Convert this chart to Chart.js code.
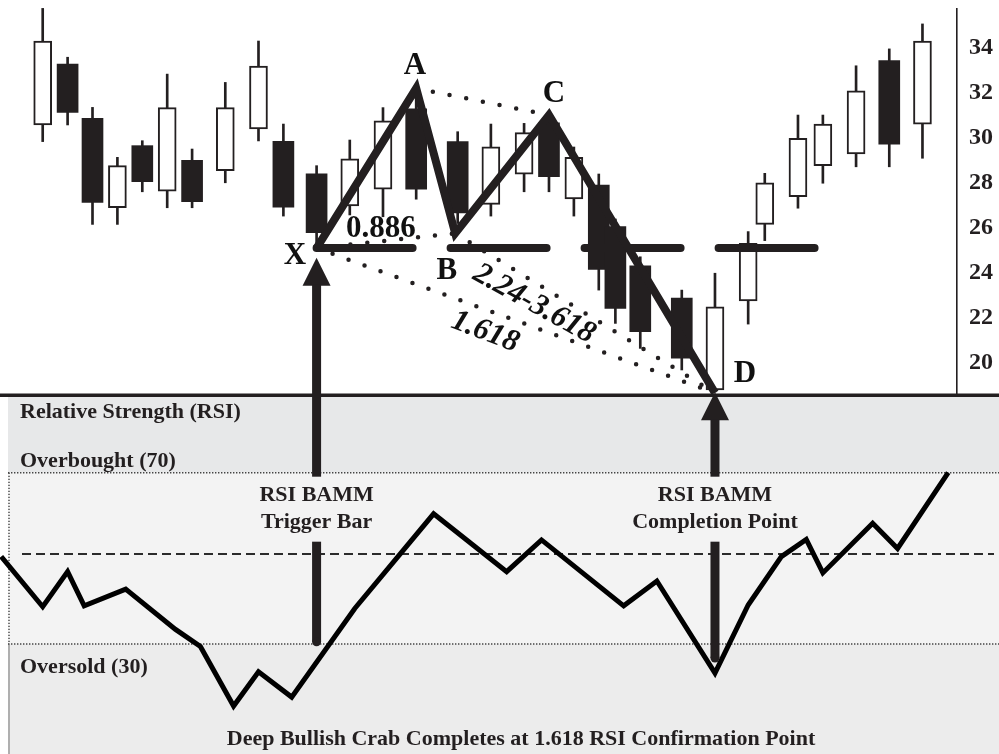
<!DOCTYPE html>
<html>
<head>
<meta charset="utf-8">
<script src="https://cdn.jsdelivr.net/npm/chart.js@4.4.1/dist/chart.umd.min.js"></script>
<style>
  html, body { margin: 0; padding: 0; background: #fff; }
  #chart { display: block; }
</style>
</head>
<body>
<canvas id="chart" width="999" height="754"></canvas>
<script>
// Price bars (x = bar position on the time axis)
const barX   = [5, 8, 11, 14, 17, 20, 23, 27, 31, 34, 38, 42, 46, 50, 55, 59, 63, 66, 69, 72, 74, 77, 82, 86, 90, 92, 96, 99, 103, 107, 111];
const opens  = [30.58, 33.29, 30.87, 26.90, 29.66, 27.64, 29.01, 28.55, 30.40, 29.85, 28.41, 26.98, 27.73, 31.30, 29.84, 27.05, 28.39, 30.67, 27.29, 27.91, 26.06, 24.32, 22.88, 18.80, 22.76, 26.16, 27.39, 28.77, 29.29, 33.44, 30.61];
const highs  = [35.76, 33.59, 31.36, 29.14, 29.88, 32.84, 29.51, 32.47, 34.31, 30.62, 28.77, 29.91, 31.35, 31.80, 30.28, 30.62, 30.65, 31.00, 29.60, 28.40, 26.40, 24.72, 23.24, 23.99, 25.84, 28.43, 31.02, 31.02, 33.21, 33.96, 35.07];
const lows   = [29.84, 30.58, 26.16, 26.16, 27.61, 26.90, 26.90, 28.01, 29.87, 26.53, 25.30, 26.58, 26.50, 27.28, 26.20, 26.53, 27.61, 27.61, 26.53, 23.24, 21.76, 20.65, 19.69, 18.71, 21.73, 25.44, 26.88, 27.99, 28.72, 28.72, 29.10];
const closes = [34.31, 31.14, 27.14, 28.77, 28.06, 31.35, 27.17, 31.35, 33.20, 26.93, 25.79, 29.07, 30.76, 27.73, 26.67, 29.61, 30.24, 28.28, 29.14, 24.16, 22.43, 21.39, 20.21, 22.50, 25.32, 28.01, 29.99, 30.62, 32.10, 29.73, 34.31];

const priceTicks = [20, 22, 24, 26, 28, 30, 32, 34];

// Harmonic pattern pivots
const pivotNames = ['X', 'A', 'B', 'C', 'D'];
const pivotX     = [38, 50, 54.7, 66, 86];
const pivotPrice = [25.11, 32.21, 25.76, 31.02, 18.67];
const dottedLegs = [['A', 'C'], ['X', 'B'], ['B', 'D'], ['X', 'D']];
const levelEndX  = 98;

// RSI
const rsiX      = [0, 5, 8, 10, 15, 21, 24, 28, 31, 35, 42.6, 52.1, 60.9, 65.1, 75, 79, 86, 90, 94, 97, 99, 105, 108, 114.1];
const rsiValues = [50.4, 38.7, 46.9, 38.9, 42.8, 33.4, 29.4, 15.5, 23.5, 17.6, 38.3, 60.4, 46.9, 54.3, 38.9, 44.7, 23.2, 39.1, 50.4, 54.4, 46.6, 58.2, 52.3, 70];
const rsiOverbought = 70;
const rsiOversold   = 30;
const rsiMid        = 51;

const INK = '#231f20';
const SERIF = '"Liberation Serif", "Times New Roman", serif';
const PANEL_TOP = 395;
const PANEL_LEFT = 8;

const pt = name => {
    const i = pivotNames.indexOf(name);
    return { x: pivotX[i], y: pivotPrice[i] };
};

const candles = barX.map((x, i) => ({ x, o: opens[i], h: highs[i], l: lows[i], c: closes[i] }));
const upBars = candles.filter(k => k.c >= k.o);
const downBars = candles.filter(k => k.c < k.o);

// text placed on the price panel (data coords)
const patternLabels = [
    { text: 'X', x: 35.4, y: 24.76, size: 31 },
    { text: 'A', x: 49.85, y: 33.22, size: 31 },
    { text: 'B', x: 53.7, y: 24.09, size: 31 },
    { text: 'C', x: 66.6, y: 31.96, size: 31 },
    { text: 'D', x: 89.6, y: 19.51, size: 31 },
    { text: '0.886', x: 45.76, y: 25.96, size: 31 },
    { text: '2.24-3.618', x: 64.2, y: 22.62, size: 31, italic: true, angle: 29 },
    { text: '1.618', x: 58.3, y: 21.38, size: 31, italic: true, angle: 21 }
];

const arrows = [
    { x: 38, tip: 24.68, end: 30.5, lines: ['RSI BAMM', 'Trigger Bar'] },
    { x: 86, tip: 18.70, end: 26.7, lines: ['RSI BAMM', 'Completion Point'] }
];

const annotations = {
    id: 'annotations',
    beforeDatasetsDraw(chart) {
        const { ctx, width, height } = chart;
        const r = chart.scales.rsi;
        const y70 = r.getPixelForValue(rsiOverbought);
        const y30 = r.getPixelForValue(rsiOversold);
        const yMid = r.getPixelForValue(rsiMid);
        ctx.save();
        ctx.fillStyle = '#e7e8e9';
        ctx.fillRect(PANEL_LEFT, PANEL_TOP, width - PANEL_LEFT, y70 - PANEL_TOP);
        ctx.fillStyle = '#f3f3f3';
        ctx.fillRect(PANEL_LEFT, y70, width - PANEL_LEFT, y30 - y70);
        ctx.fillStyle = '#ececec';
        ctx.fillRect(PANEL_LEFT, y30, width - PANEL_LEFT, height - y30);

        ctx.strokeStyle = '#9b9b9b';
        ctx.lineWidth = 1.5;
        ctx.beginPath();
        ctx.moveTo(PANEL_LEFT + 1, y30);
        ctx.lineTo(PANEL_LEFT + 1, height);
        ctx.stroke();

        ctx.strokeStyle = '#444';
        ctx.lineWidth = 1.4;
        ctx.setLineDash([1.4, 1.6]);
        ctx.beginPath();
        ctx.moveTo(PANEL_LEFT + 1, y70);
        ctx.lineTo(PANEL_LEFT + 1, y30);
        ctx.stroke();
        [y70, y30].forEach(y => {
            ctx.beginPath();
            ctx.moveTo(PANEL_LEFT, y);
            ctx.lineTo(width, y);
            ctx.stroke();
        });

        ctx.strokeStyle = '#2b2b2b';
        ctx.lineWidth = 2;
        ctx.setLineDash([9, 5]);
        ctx.beginPath();
        ctx.moveTo(22, yMid);
        ctx.lineTo(994, yMid);
        ctx.stroke();
        ctx.restore();
    },
    afterDatasetsDraw(chart) {
        const { ctx, width, chartArea } = chart;
        const xs = chart.scales.x, ys = chart.scales.y, r = chart.scales.rsi;
        const y70 = r.getPixelForValue(rsiOverbought);
        const y30 = r.getPixelForValue(rsiOversold);
        ctx.save();
        ctx.fillStyle = INK;
        // panel separator and price axis line
        ctx.fillRect(0, PANEL_TOP - 1.5, width, 3.5);
        ctx.fillRect(ys.left, chartArea.top, 1.6, PANEL_TOP - chartArea.top);

        // arrows
        arrows.forEach(a => {
            const x = xs.getPixelForValue(a.x);
            const tip = ys.getPixelForValue(a.tip);
            const end = r.getPixelForValue(a.end);
            const gapTop = y70 + 4, gapBottom = y70 + 69;
            ctx.beginPath();
            ctx.moveTo(x, tip);
            ctx.lineTo(x - 14, tip + 28);
            ctx.lineTo(x + 14, tip + 28);
            ctx.closePath();
            ctx.fill();
            ctx.fillRect(x - 4.5, tip + 27, 9, gapTop - tip - 27);
            ctx.fillRect(x - 4.5, gapBottom, 9, end - gapBottom);
            ctx.beginPath();
            ctx.arc(x, end, 4.5, 0, Math.PI * 2);
            ctx.fill();
            ctx.font = `bold 22px ${SERIF}`;
            ctx.textAlign = 'center';
            ctx.textBaseline = 'alphabetic';
            ctx.fillText(a.lines[0], x, y70 + 28);
            ctx.fillText(a.lines[1], x, y70 + 55);
        });

        // RSI panel text
        ctx.font = `bold 22px ${SERIF}`;
        ctx.textAlign = 'left';
        ctx.fillText('Relative Strength (RSI)', 20, PANEL_TOP + 23);
        ctx.fillText('Overbought (70)', 20, y70 - 6);
        ctx.fillText('Oversold (30)', 20, y30 + 29);
        ctx.textAlign = 'center';
        ctx.fillText('Deep Bullish Crab Completes at 1.618 RSI Confirmation Point', 521, chart.height - 9);

        // pattern labels
        ctx.fillStyle = '#111';
        ctx.textBaseline = 'middle';
        patternLabels.forEach(l => {
            ctx.save();
            ctx.translate(xs.getPixelForValue(l.x), ys.getPixelForValue(l.y));
            if (l.angle) ctx.rotate(l.angle * Math.PI / 180);
            ctx.font = `${l.italic ? 'italic ' : ''}bold ${l.size}px ${SERIF}`;
            ctx.fillText(l.text, 0, 0);
            ctx.restore();
        });
        ctx.restore();
    }
};

new Chart(document.getElementById('chart'), {
    type: 'bar',
    data: {
        datasets: [
            {
                label: 'wicks',
                data: candles.map(k => ({ x: k.x, y: [k.l, k.h] })),
                backgroundColor: INK,
                barThickness: 2,
                grouped: false,
                order: 10
            },
            {
                label: 'up',
                data: upBars.map(k => ({ x: k.x, y: [k.o, k.c] })),
                backgroundColor: '#fff',
                borderColor: INK,
                borderWidth: 2,
                borderSkipped: false,
                barThickness: 18,
                grouped: false,
                order: 9
            },
            {
                label: 'down',
                data: downBars.map(k => ({ x: k.x, y: [k.o, k.c] })),
                backgroundColor: INK,
                barThickness: 21,
                grouped: false,
                order: 9
            },
            ...dottedLegs.map(([a, b]) => ({
                type: 'line',
                label: a + b,
                data: [pt(a), pt(b)],
                borderColor: INK,
                borderWidth: 4.5,
                borderDash: [0, 17],
                borderCapStyle: 'round',
                pointRadius: 0,
                order: 5
            })),
            {
                type: 'line',
                label: 'X level',
                data: [pt('X'), { x: levelEndX, y: pt('X').y }],
                borderColor: INK,
                borderWidth: 8,
                borderDash: [96, 38],
                borderCapStyle: 'round',
                pointRadius: 0,
                order: 4
            },
            {
                type: 'line',
                label: 'XABCD',
                data: pivotNames.map(pt),
                borderColor: INK,
                borderWidth: 8,
                borderJoinStyle: 'miter',
                pointRadius: 0,
                order: 3
            },
            {
                type: 'line',
                label: 'RSI',
                yAxisID: 'rsi',
                data: rsiX.map((x, i) => ({ x, y: rsiValues[i] })),
                borderColor: '#000',
                borderWidth: 5,
                borderJoinStyle: 'miter',
                pointRadius: 0,
                order: 2
            }
        ]
    },
    options: {
        responsive: false,
        animation: false,
        events: [],
        layout: { padding: { top: 8, left: 0, right: 0, bottom: 0 } },
        plugins: { legend: { display: false }, tooltip: { enabled: false } },
        scales: {
            x: {
                type: 'linear',
                min: -0.145,
                max: 115.04,
                offset: false,
                display: false
            },
            y: {
                position: 'right',
                min: 2.622,
                max: 35.778,
                grid: { display: false, drawTicks: false },
                border: { display: false },
                afterBuildTicks: s => { s.ticks = priceTicks.map(v => ({ value: v })); },
                afterFit: s => {
                    s.width = 43;
                    s.paddingTop = 0;
                    s.paddingBottom = 0;
                },
                ticks: {
                    color: INK,
                    padding: 13,
                    font: { family: SERIF, weight: 'bold', size: 24 }
                }
            },
            rsi: {
                type: 'linear',
                position: 'left',
                display: false,
                min: 4.31,
                max: 178.51
            }
        }
    },
    plugins: [annotations]
});
</script>
</body>
</html>
